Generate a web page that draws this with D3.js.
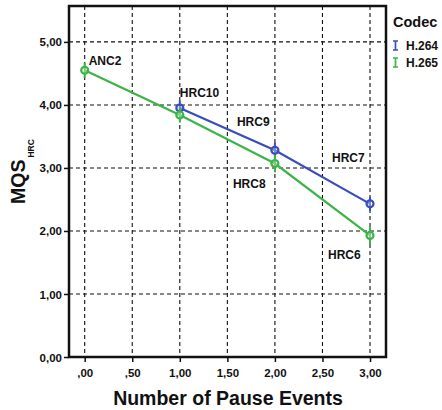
<!DOCTYPE html>
<html>
<head>
<meta charset="utf-8">
<script src="https://cdn.jsdelivr.net/npm/d3@7"></script>
<style>
  body { margin: 0; background: #fff; }
  svg text { font-family: "Liberation Sans", Arial, Helvetica, sans-serif; font-weight: bold; fill: #111; }
</style>
</head>
<body>
<svg id="chart" width="442" height="410"></svg>
<script>
// Pause events on the x axis, mean MQS per condition for each codec
const pauseEvents264 = [1, 2, 3];
const mqs264 = [3.95, 3.28, 2.43];
const err264 = [0.12, 0.12, 0.11];
const labels264 = ["HRC10", "HRC9", "HRC7"];

const pauseEvents265 = [0, 1, 2, 3];
const mqs265 = [4.55, 3.84, 3.07, 1.93];
const err265 = [0.12, 0.12, 0.14, 0.14];
const labels265 = ["ANC2", "", "HRC8", "HRC6"];

const xTicks = [0, 0.5, 1, 1.5, 2, 2.5, 3];
const yTicks = [0, 1, 2, 3, 4, 5];
const codecs = ["H.264", "H.265"];
const colors = ["#3a4dbd", "#3db34a"];

const svg = d3.select("#chart");
const frame = { left: 69, right: 386, top: 6, bottom: 357 };

const x = d3.scaleLinear().domain([-0.165, 3.168]).range([frame.left, frame.right]);
const y = d3.scaleLinear().domain([0, 5.57]).range([frame.bottom, frame.top]);

const fmtX = v => v < 1 ? v.toFixed(2).replace("0.", ",") : v.toFixed(2).replace(".", ",");

// dashed grid
const grid = svg.append("g");
grid.selectAll("line.gx").data(xTicks).join("line")
  .attr("x1", d => x(d)).attr("x2", d => x(d))
  .attr("y1", frame.top).attr("y2", frame.bottom)
  .attr("stroke", "#111").attr("stroke-width", 1.1).attr("stroke-dasharray", "4,3");
grid.selectAll("line.gy").data(yTicks.slice(1)).join("line")
  .attr("x1", frame.left).attr("x2", frame.right)
  .attr("y1", d => y(d)).attr("y2", d => y(d))
  .attr("stroke", "#111").attr("stroke-width", 1.1).attr("stroke-dasharray", "4,3");

// axes
const yAxis = d3.axisLeft(y).tickValues(yTicks).tickSize(5).tickPadding(2)
  .tickFormat(d => d.toFixed(2).replace(".", ","));
const gy = svg.append("g").attr("transform", `translate(${frame.left},0)`).call(yAxis);
gy.select(".domain").remove();
gy.selectAll("line").attr("stroke", "#111").attr("stroke-width", 1.5);
gy.selectAll("text").attr("font-size", 11.5).attr("fill", "#111").attr("dy", "0.35em");

const xAxis = d3.axisBottom(x).tickValues(xTicks).tickSize(5).tickPadding(7)
  .tickFormat(fmtX);
const gx = svg.append("g").attr("transform", `translate(0,${frame.bottom})`).call(xAxis);
gx.select(".domain").remove();
gx.selectAll("line").attr("stroke", "#111").attr("stroke-width", 1.5);
gx.selectAll("text").attr("font-size", 11.5).attr("fill", "#111");

// frame
svg.append("rect")
  .attr("x", frame.left).attr("y", frame.top)
  .attr("width", frame.right - frame.left).attr("height", frame.bottom - frame.top)
  .attr("fill", "none").attr("stroke", "#111").attr("stroke-width", 2.5);

// series
const series = [
  { xs: pauseEvents264, ys: mqs264, es: err264, color: colors[0] },
  { xs: pauseEvents265, ys: mqs265, es: err265, color: colors[1] }
];
const line = d3.line().x(d => x(d[0])).y(d => y(d[1]));
series.forEach(s => {
  const pts = s.xs.map((v, i) => [v, s.ys[i], s.es[i]]);
  const g = svg.append("g");
  g.append("path").datum(pts).attr("d", line)
    .attr("fill", "none").attr("stroke", s.color).attr("stroke-width", 2.2);
  g.selectAll("line.err").data(pts).join("line")
    .attr("x1", d => x(d[0])).attr("x2", d => x(d[0]))
    .attr("y1", d => y(d[1] - d[2])).attr("y2", d => y(d[1] + d[2]))
    .attr("stroke", s.color).attr("stroke-width", 2);
  g.selectAll("circle").data(pts).join("circle")
    .attr("cx", d => x(d[0])).attr("cy", d => y(d[1])).attr("r", 3.5)
    .attr("fill", "#fff").attr("fill-opacity", 0.35)
    .attr("stroke", s.color).attr("stroke-width", 2.2);
});

// condition labels
const labelPos = [
  ...pauseEvents265.map((v, i) => ({ t: labels265[i], xv: v, yv: mqs265[i] })),
  ...pauseEvents264.map((v, i) => ({ t: labels264[i], xv: v, yv: mqs264[i] }))
].filter(d => d.t);
const offsets = {
  ANC2: [4, -5], HRC10: [0, -11], HRC9: [-38, -24],
  HRC7: [-38, -42], HRC8: [-42, 24], HRC6: [-42, 24]
};
svg.append("g").selectAll("text").data(labelPos).join("text")
  .attr("x", d => x(d.xv) + offsets[d.t][0])
  .attr("y", d => y(d.yv) + offsets[d.t][1])
  .attr("font-size", 12).text(d => d.t);

// axis titles
svg.append("text").attr("x", 228).attr("y", 405).attr("text-anchor", "middle")
  .attr("font-size", 19.5).text("Number of Pause Events");
const yt = svg.append("text").attr("transform", "translate(25,204) rotate(-90)")
  .attr("text-anchor", "start").attr("font-size", 19.5);
yt.append("tspan").text("MQS");
yt.append("tspan").attr("font-size", 8.5).attr("dy", 9).attr("dx", 2).text("HRC");

// legend
const lg = svg.append("g").attr("transform", "translate(392,0)");
lg.append("text").attr("x", 1).attr("y", 27).attr("font-size", 14.5).text("Codec");
codecs.forEach((c, i) => {
  const yy = 45 + i * 17;
  lg.append("path")
    .attr("d", `M1,${yy - 4}h5M3.5,${yy - 4}v9M1,${yy + 5}h5`)
    .attr("stroke", colors[i]).attr("stroke-width", 1.7).attr("fill", "none");
  lg.append("text").attr("x", 14).attr("y", yy + 5).attr("font-size", 12).text(c);
});
</script>
</body>
</html>
